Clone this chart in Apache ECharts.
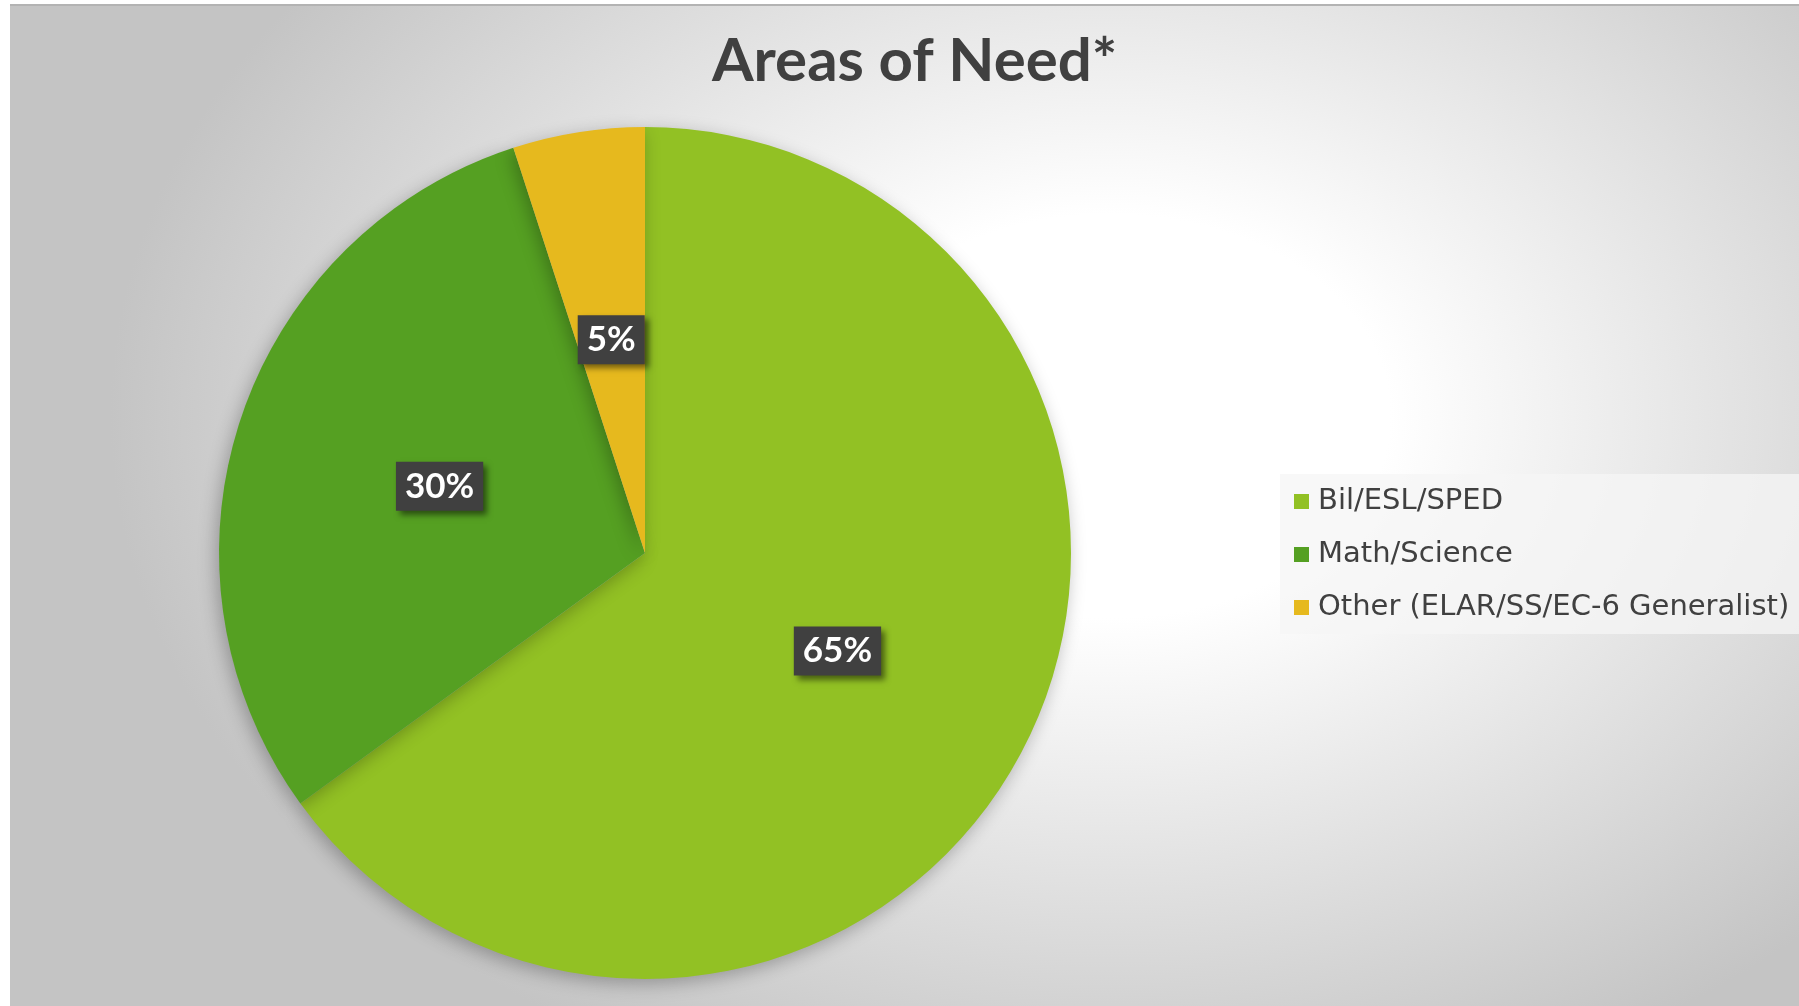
<!DOCTYPE html>
<html>
<head>
<meta charset="utf-8">
<script src="https://cdn.jsdelivr.net/npm/echarts@6/dist/echarts.min.js"></script>
<style>
  html, body { margin: 0; padding: 0; background: #ffffff; width: 1799px; height: 1006px; overflow: hidden; }
  #bg { position: absolute; left: 10px; top: 4px; width: 1789px; height: 1002px;
        border-top: 2px solid #b3b3b3; box-sizing: border-box;
        background: radial-gradient(ellipse 1000px 720px at 1100px 410px, #ffffff 0%, #ffffff 28%, #c4c4c4 100%); }
  #chart { position: absolute; left: 0; top: 0; width: 1799px; height: 1006px; }
</style>
</head>
<body>
<div id="bg"></div>
<div id="chart"></div>
<script>
const titleText = 'Areas of Need*';
const categories = ['Bil/ESL/SPED', 'Math/Science', 'Other (ELAR/SS/EC-6 Generalist)'];
const values = [65, 30, 5];
const colors = ['#92c124', '#55a022', '#e6b91e'];

const chart = echarts.init(document.getElementById('chart'), null, { renderer: 'canvas' });
const data = categories.map((c, i) => ({ name: c, value: values[i], itemStyle: { color: colors[i] } }));

chart.setOption({
  backgroundColor: 'transparent',
  animation: false,
  title: {
    text: titleText,
    left: 707,
    top: 27,
    textStyle: { fontFamily: 'Lato', fontWeight: 'bold', fontSize: 60, color: '#404040' }
  },
  legend: {
    orient: 'vertical',
    left: 1280,
    top: 474,
    padding: [13, 40, 12, 14],
    backgroundColor: 'rgba(245,245,245,0.75)',
    itemWidth: 15,
    itemHeight: 15,
    itemGap: 24,
    icon: 'rect',
    data: categories,
    textStyle: { fontFamily: 'DejaVu Sans', fontSize: 29, color: '#404040', padding: [0, 0, 0, 4] }
  },
  series: [{
    type: 'pie',
    center: [645, 553],
    radius: 426,
    startAngle: 90,
    clockwise: true,
    avoidLabelOverlap: false,
    data: data,
    itemStyle: { shadowBlur: 18, shadowColor: 'rgba(0,0,0,0.28)', shadowOffsetX: -3, shadowOffsetY: 5 },
    label: {
      show: true,
      position: 'inside',
      formatter: '{d}%',
      fontFamily: 'Lato',
      fontWeight: 'bold',
      fontSize: 35,
      color: '#ffffff',
      backgroundColor: '#404040',
      padding: [9, 9, 5, 9],
      shadowColor: 'rgba(0,0,0,0.5)',
      shadowBlur: 6,
      shadowOffsetX: 4,
      shadowOffsetY: 4
    },
    labelLine: { show: false },
    emphasis: { disabled: true }
  }]
});
</script>
</body>
</html>
